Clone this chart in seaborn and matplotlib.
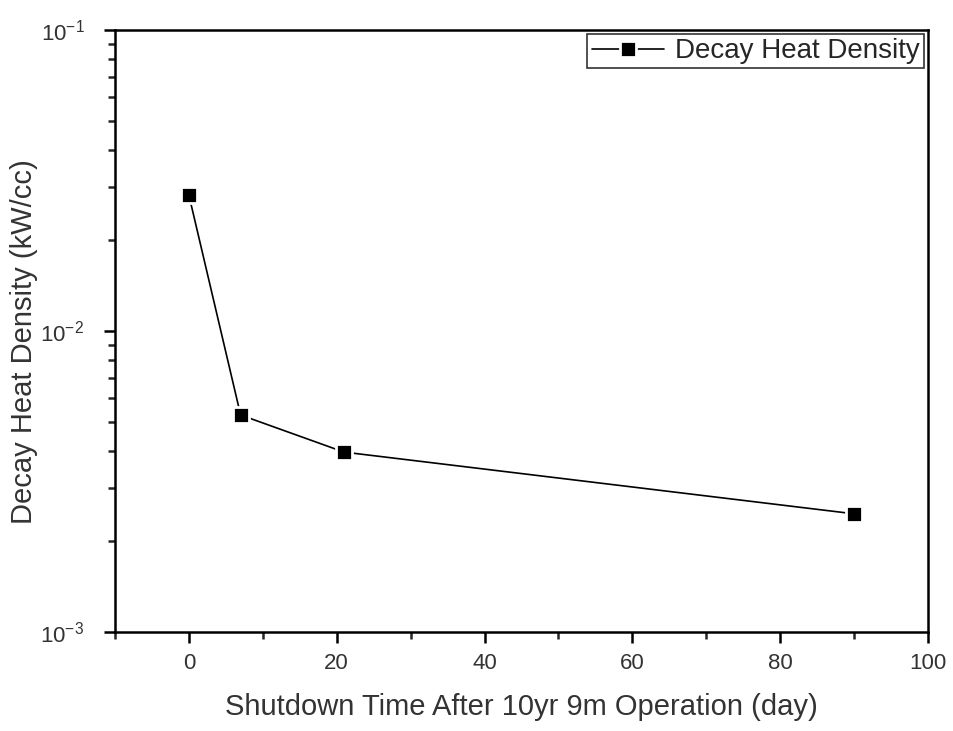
import numpy as np
import pandas as pd
import matplotlib
matplotlib.use('Agg')
import matplotlib.pyplot as plt
import seaborn as sns
from matplotlib.ticker import LogLocator, MultipleLocator, FuncFormatter

days = [0, 7, 21, 90]
heat_density = [0.0283, 0.00526, 0.00396, 0.00247]

df = pd.DataFrame({'day': days, 'heat': heat_density})

sns.set_style('white')
plt.rcParams['font.family'] = ['Liberation Sans', 'DejaVu Sans']

fig = plt.figure(figsize=(9.54, 7.31), dpi=100)
ax = fig.add_axes([0.1205, 0.1354, 0.8522, 0.8236])

sns.lineplot(data=df, x='day', y='heat', ax=ax, color='black', linewidth=1.2,
             marker='s', markersize=12, markerfacecolor='black',
             markeredgecolor='white', markeredgewidth=2.0,
             label='Decay Heat Density')

ax.set_yscale('log')
ax.set_xlim(-10, 100)
ax.set_ylim(1e-3, 1e-1)
ax.xaxis.set_major_locator(MultipleLocator(20))
ax.xaxis.set_minor_locator(MultipleLocator(10))
ax.yaxis.set_major_locator(LogLocator(base=10, numticks=10))
ax.yaxis.set_minor_locator(LogLocator(base=10, subs=np.arange(2, 10), numticks=20))


def exp_fmt(v, pos):
    e = int(round(np.log10(v)))
    return r'$\mathregular{10^{%d}}$' % e


ax.yaxis.set_major_formatter(FuncFormatter(exp_fmt))

for s in ax.spines.values():
    s.set_color('black')
    s.set_linewidth(1.8)

ax.tick_params(axis='both', which='major', direction='out', length=8, width=1.8,
               labelsize=16, colors='black', labelcolor='#333333',
               left=True, bottom=True, top=False, right=False)
ax.tick_params(axis='both', which='minor', direction='out', length=5, width=1.8,
               left=True, bottom=True, top=False, right=False)
ax.tick_params(axis='x', pad=7)
ax.tick_params(axis='y', pad=14)

ax.set_xlabel('Shutdown Time After 10yr 9m Operation (day)', fontsize=21, color='#333333', labelpad=14)
ax.set_ylabel('Decay Heat Density (kW/cc)', fontsize=21, color='#333333')
ax.yaxis.set_label_coords(-0.095, 0.483)

leg = ax.legend(loc='upper right', fontsize=20, frameon=True, fancybox=False,
                edgecolor='black', borderpad=0.15, handlelength=2.6,
                borderaxespad=0.15, handletextpad=0.4)
leg.get_frame().set_linewidth(1.2)

fig.savefig('out.png', dpi=100)
